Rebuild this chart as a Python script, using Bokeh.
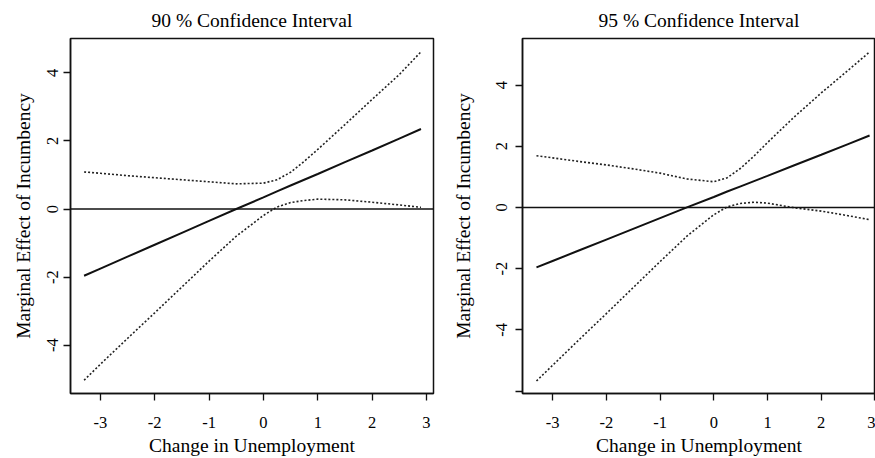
from bokeh.plotting import figure
from bokeh.layouts import row
from bokeh.models import Span, FixedTicker
from bokeh.embed import file_html
from bokeh.resources import INLINE

# ---- data ----
x_vals = [-3.3, -3.0, -2.5, -2.0, -1.5, -1.0, -0.5, 0.0, 0.25, 0.5, 0.75, 1.0, 1.5, 2.0, 2.5, 2.9]
est = [-1.96, -1.75, -1.40, -1.05, -0.70, -0.35, 0.00, 0.34, 0.52, 0.69, 0.86, 1.03, 1.38, 1.72, 2.07, 2.35]

upper90 = [1.09, 1.05, 0.98, 0.92, 0.86, 0.80, 0.74, 0.76, 0.86, 1.08, 1.40, 1.75, 2.48, 3.22, 3.95, 4.62]
lower90 = [-5.03, -4.56, -3.80, -3.05, -2.29, -1.53, -0.80, -0.19, 0.06, 0.19, 0.25, 0.29, 0.27, 0.20, 0.12, 0.05]

upper95 = [1.69, 1.62, 1.50, 1.39, 1.26, 1.12, 0.93, 0.84, 0.97, 1.28, 1.68, 2.12, 2.96, 3.74, 4.48, 5.08]
lower95 = [-5.67, -5.16, -4.31, -3.47, -2.62, -1.77, -0.94, -0.24, 0.02, 0.13, 0.17, 0.14, -0.01, -0.12, -0.27, -0.40]

x_ticks = [-3, -2, -1, 0, 1, 2, 3]
y_ticks90 = [-4, -2, 0, 2, 4]
y_ticks95 = [-6, -4, -2, 0, 2, 4]

titles = ["90 % Confidence Interval", "95 % Confidence Interval"]
x_title = "Change in Unemployment"
y_title = "Marginal Effect of Incumbency"

FONT = "Liberation Serif"


def make_panel(title, upper, lower, xr, yr, yticks, width, border_left, border_right,
               tick_standoff, label_standoff):
    p = figure(width=width, height=458, x_range=xr, y_range=yr,
               output_backend="svg", toolbar_location=None,
               min_border_left=border_left, min_border_right=border_right,
               min_border_top=38, min_border_bottom=62, title=title)
    p.title.text_font = FONT
    p.title.text_font_size = "19.5px"
    p.title.text_font_style = "normal"
    p.title.align = "center"
    p.title.vertical_align = "top"
    p.title.text_color = "black"
    p.title.standoff = 11
    p.title.offset = 0

    p.grid.visible = False
    p.outline_line_color = "#111111"
    p.outline_line_width = 1.5
    p.background_fill_color = "white"
    p.border_fill_color = "white"

    p.xaxis.ticker = FixedTicker(ticks=x_ticks)
    p.yaxis.ticker = FixedTicker(ticks=yticks)
    p.xaxis.major_label_overrides = {t: str(t) for t in x_ticks}
    p.yaxis.major_label_overrides = {t: ("" if t == -6 else str(t)) for t in yticks}
    for ax in (p.xaxis, p.yaxis):
        ax.axis_line_color = "#111111"
        ax.axis_line_width = 1.5
        ax.major_tick_line_color = "#111111"
        ax.major_tick_line_width = 1.3
        ax.major_tick_in = 0
        ax.major_tick_out = 7
        ax.minor_tick_line_color = None
        ax.major_label_text_font = FONT
        ax.major_label_text_font_size = "16.5px"
        ax.major_label_text_color = "black"
        ax.axis_label_text_font = FONT
        ax.axis_label_text_font_size = "19.5px"
        ax.axis_label_text_font_style = "normal"
        ax.axis_label_text_color = "black"
    p.xaxis.axis_label = x_title
    p.yaxis.axis_label = y_title
    p.yaxis.major_label_orientation = "vertical"
    p.xaxis.major_label_standoff = 16
    p.xaxis.axis_label_standoff = 4
    p.yaxis.major_label_standoff = tick_standoff
    p.yaxis.axis_label_standoff = label_standoff

    p.add_layout(Span(location=0, dimension="width", line_color="#111111", line_width=1.6))
    p.line(x_vals, est, line_color="#111111", line_width=2)
    p.line(x_vals, upper, line_color="#222222", line_width=1.6, line_dash="2 2")
    p.line(x_vals, lower, line_color="#222222", line_width=1.6, line_dash="2 2")
    return p


p1 = make_panel(titles[0], upper90, lower90, (-3.55, 3.13), (-5.42, 5.01), y_ticks90,
                440, 70, 7, 5, 11)
p2 = make_panel(titles[1], upper95, lower95, (-3.56, 3.01), (-6.08, 5.52), y_ticks95,
                435, 82, 0, 8, 20)

layout = row(p1, p2)
open("out.html", "w").write(file_html(layout, INLINE))
